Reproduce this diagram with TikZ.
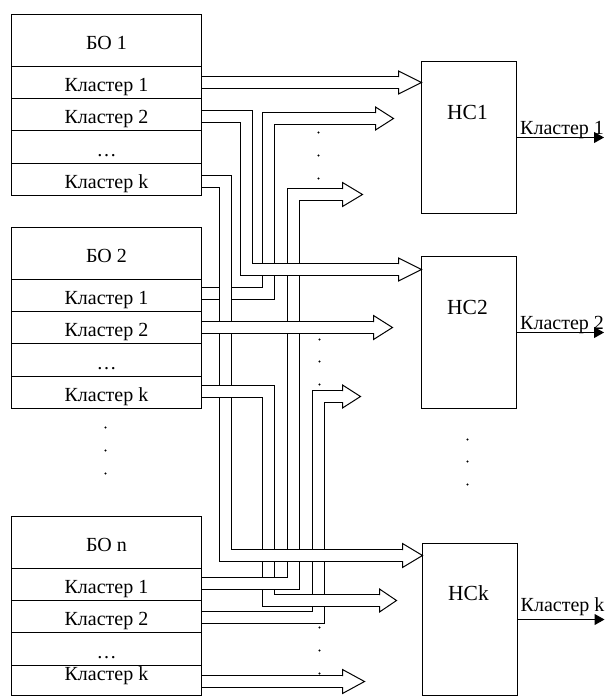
\documentclass[tikz,border=0pt]{standalone}
\usepackage{fontspec}
\setmainfont{Liberation Serif}
\usetikzlibrary{arrows.meta}
\newcommand\hhead[4]{%
  \fill[white] (#1,{#3-#4}) -- (#2,#3) -- (#1,{#3+#4}) -- cycle;
  \draw[line width=1pt,line join=miter,line cap=rect] (#1,{#3-6}) -- (#1,{#3-#4}) -- (#2,#3) -- (#1,{#3+#4}) -- (#1,{#3+6});}
\begin{document}
\begin{tikzpicture}[x=1pt,y=-1pt,
  font=\fontsize{20}{22}\selectfont,
  box/.style={draw, line width=1pt, inner sep=0pt, outer sep=0.5pt, minimum width=190pt, text height=18pt, text depth=0pt},
  hdr/.style={box, minimum height=52pt},
  row/.style={box, minimum height=32pt},
  nc/.style={draw, line width=1pt, inner sep=0pt, outer sep=0.5pt, minimum width=95pt, minimum height=152pt},
  bus/.style={draw=black, line width=1pt, double=white, double distance=11pt, line join=miter, line cap=butt},
  outarrow/.style={line width=1pt, -{Triangle[length=10pt,width=11pt]}},
  lbl/.style={anchor=base, inner sep=0pt},
  nclbl/.style={lbl, font=\fontsize{21.5}{24}\selectfont}
]
\useasboundingbox (0,0) rectangle (609,696);

% BO 1
\node[hdr] (b1h) at (106.5,40.5) {БО 1};
\node[row] (b1r1) at (106.5,82.5) {Кластер 1};
\node[row] (b1r2) at (106.5,114.5) {Кластер 2};
\node[row, minimum height=33pt] (b1r3) at (106.5,147) {…};
\node[row] (b1r4) at (106.5,179.5) {Кластер k};
% BO 2
\node[hdr] (b2h) at (106.5,253.5) {БО 2};
\node[row] (b2r1) at (106.5,295.5) {Кластер 1};
\node[row] (b2r2) at (106.5,327.5) {Кластер 2};
\node[row, minimum height=33pt] (b2r3) at (106.5,360) {…};
\node[row] (b2r4) at (106.5,392.5) {Кластер k};
% BO n
\node[hdr] (bnh) at (106.5,542.5) {БО n};
\node[row] (bnr1) at (106.5,584.5) {Кластер 1};
\node[row] (bnr2) at (106.5,616.5) {Кластер 2};
\node[row, minimum height=33pt] (bnr3) at (106.5,649) {…};
\node[row, minimum height=30pt, text height=9pt, text depth=9pt] (bnr4) at (106.5,680.5) {Кластер k};

% NC boxes
\node[nc] (nc1) at (469,137.5) {};
\node[nc] (nc2) at (469,332.5) {};
\node[nc] (nck) at (470,619.5) {};
\node[nclbl] (nc1t) at (467.5,119) {НС1};
\node[nclbl] (nc2t) at (467.5,314) {НС2};
\node[nclbl] (nckt) at (468.5,600) {НСk};

% outputs
\draw[outarrow] (nc1.east) -- ++(87,0);
\draw[outarrow] (nc2.east) -- ++(87,0);
\draw[outarrow] (nck.east) -- ++(86.5,0);
\node[lbl, anchor=base west] (o1) at (520,134.3) {Кластер 1};
\node[lbl, anchor=base west] (o2) at (520,329.3) {Кластер 2};
\node[lbl, anchor=base west] (ok) at (520.5,611.7) {Кластер k};

% buses (base)
\draw[bus] (b1r1.east) -- (400.5,82.5);
\draw[bus] (b2r1.east) ++(0,-2) -| (268.5,118.5) -- (377.5,118.5);
\draw[bus] (bnr1.east) ++(0,-1) -| (293.5,194.5) -- (344.5,194.5);
\draw[bus] (b1r2.east) ++(0,2) -| (246.5,269.5) -- (400.5,269.5);
\draw[bus] (b2r2.east) -- (375.5,327.5);
\draw[bus] (bnr2.east) ++(0,1) -| (318.5,396.5) -- (344.5,396.5);
\draw[bus] (b2r4.east) ++(0,-1) -| (268.5,600.5) -- (381.5,600.5);
\draw[bus] (bnr4.east) ++(0,1) -- (344.5,681.5);
\draw[bus] (b1r4.east) ++(0,2) -| (225.5,555.5) -- (404.5,555.5);

% horizontal runs laid over the crossings
\draw[bus] (254,269.5) -- (400.5,269.5);
\draw[bus] (233,555.5) -- (404.5,555.5);
\draw[bus] (bnr1.east) ++(0,-1) -- (286,583.5);
\draw[bus] (b2r4.east) ++(0,-1) -- (261,391.5);
\draw[bus] (276,600.5) -- (381.5,600.5);
\draw[bus] (b2r2.east) -- (375.5,327.5);

% hollow arrow heads
\hhead{398.5}{421.5}{82.5}{11.5}
\hhead{375.5}{393.5}{118.5}{11.5}
\hhead{342.5}{362.5}{194.5}{12}
\hhead{398.5}{421.5}{269.5}{11.5}
\hhead{373.5}{392.5}{327.5}{12}
\hhead{342.5}{360.5}{396.5}{11.5}
\hhead{402.5}{422.5}{555.5}{12}
\hhead{379.5}{396.5}{600.5}{11.5}
\hhead{342.5}{364.5}{681.5}{12}

% dots
\foreach \yy in {132.5,155.5,178.5} \fill (318.5,\yy) circle (1.1pt);
\foreach \yy in {339.5,361.5,384.5} \fill (319.5,\yy) circle (1.1pt);
\foreach \yy in {627.5,650.5,673.5} \fill (319.5,\yy) circle (1.1pt);
\foreach \yy in {439.5,461.5,484.5} \fill (467.5,\yy) circle (1.1pt);
\foreach \yy in {427.5,450.5,473.5} \fill (105.5,\yy) circle (1.1pt);
\end{tikzpicture}
\end{document}
